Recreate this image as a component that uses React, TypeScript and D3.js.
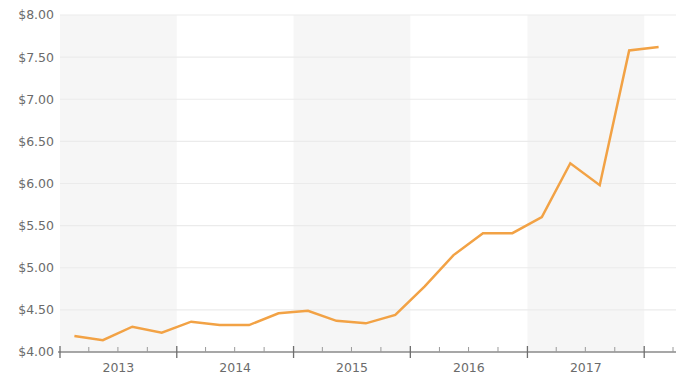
import React from "react";
import * as d3 from "d3";

const quarterDates: string[] = [
  "2013-02-15", "2013-05-15", "2013-08-15", "2013-11-15",
  "2014-02-15", "2014-05-15", "2014-08-15", "2014-11-15",
  "2015-02-15", "2015-05-15", "2015-08-15", "2015-11-15",
  "2016-02-15", "2016-05-15", "2016-08-15", "2016-11-15",
  "2017-02-15", "2017-05-15", "2017-08-15", "2017-11-15",
  "2018-02-15",
];
const prices: number[] = [
  4.19, 4.14, 4.30, 4.23,
  4.36, 4.32, 4.32, 4.46,
  4.49, 4.37, 4.34, 4.44,
  4.78, 5.15, 5.41, 5.41,
  5.60, 6.24, 5.98, 7.58,
  7.62,
];
const yTicks: number[] = [4, 4.5, 5, 5.5, 6, 6.5, 7, 7.5, 8];
const years: number[] = [2013, 2014, 2015, 2016, 2017];
const shadedYears: number[] = [2013, 2015, 2017];

const W = 684;
const H = 379;
const left = 60;
const right = 673;
const top = 15;
const bottom = 352;
const gridRight = 676;

export default function App() {
  const parse = d3.timeParse("%Y-%m-%d");
  const x = d3
    .scaleTime()
    .domain([new Date(2013, 0, 1), new Date(2018, 3, 1)])
    .range([left, right]);
  const y = d3.scaleLinear().domain([4, 8]).range([bottom, top]);

  const data = quarterDates.map((d, i) => ({ date: parse(d) as Date, v: prices[i] }));
  const line = d3
    .line<{ date: Date; v: number }>()
    .x((d) => x(d.date))
    .y((d) => y(d.v));

  const majorTicks = d3.timeYear.range(new Date(2013, 0, 1), new Date(2018, 0, 2));
  const minorTicks = d3
    .timeMonth.every(3)!
    .range(new Date(2013, 0, 1), new Date(2018, 3, 2))
    .filter((d) => d.getMonth() !== 0);

  const font = "'DejaVu Sans', Verdana, sans-serif";

  return (
    <svg
      width={W}
      height={H}
      style={{ position: "absolute", left: 0, top: 0, background: "#fff" }}
    >
      {shadedYears.map((yr) => (
        <rect
          key={yr}
          x={x(new Date(yr, 0, 1))}
          y={top}
          width={x(new Date(yr + 1, 0, 1)) - x(new Date(yr, 0, 1))}
          height={bottom - top}
          fill="#f6f6f6"
        />
      ))}
      {yTicks.map((t) => (
        <g key={t}>
          {t > 4 && (
            <line x1={left} x2={gridRight} y1={y(t)} y2={y(t)} stroke="#ebebeb" strokeWidth={1.2} />
          )}
          <text
            x={54}
            y={y(t)}
            dy="0.35em"
            textAnchor="end"
            fontFamily={font}
            fontSize={12.5}
            fill="#6b6b6b"
          >
            {d3.format("$.2f")(t)}
          </text>
        </g>
      ))}
      <line x1={left - 2} x2={gridRight} y1={bottom} y2={bottom} stroke="#8a8a8a" strokeWidth={1.3} />
      {majorTicks.map((d) => (
        <line
          key={d.toISOString()}
          x1={x(d)}
          x2={x(d)}
          y1={bottom - 6}
          y2={bottom + 6}
          stroke="#6e6e6e"
          strokeWidth={1.3}
        />
      ))}
      {minorTicks.map((d) => (
        <line
          key={d.toISOString()}
          x1={x(d)}
          x2={x(d)}
          y1={bottom - 5}
          y2={bottom}
          stroke="#9a9a9a"
          strokeWidth={1}
        />
      ))}
      {years.map((yr) => (
        <text
          key={yr}
          x={(x(new Date(yr, 0, 1)) + x(new Date(yr + 1, 0, 1))) / 2}
          y={368}
          dy="0.35em"
          textAnchor="middle"
          fontFamily={font}
          fontSize={12.5}
          fill="#6b6b6b"
        >
          {yr}
        </text>
      ))}
      <path
        d={line(data) || ""}
        fill="none"
        stroke="#f2a245"
        strokeWidth={2.5}
        strokeLinejoin="miter"
      />
    </svg>
  );
}
